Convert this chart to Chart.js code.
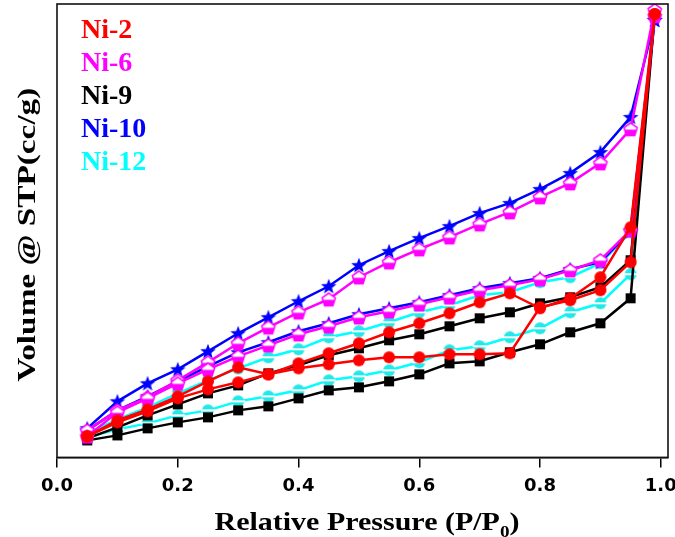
<!DOCTYPE html>
<html>
<head>
<meta charset="utf-8">
<title>Isotherms</title>
<script src="https://cdn.jsdelivr.net/npm/chart.js@4.4.0/dist/chart.umd.min.js"></script>
<style>
  html, body { margin: 0; padding: 0; background: #fff; }
  #isotherm-chart { display: block; }
</style>
</head>
<body>
<canvas id="isotherm-chart" width="675" height="537"></canvas>
<script>
//  data (volume in arbitrary units, no y labels on the original)
var pressure = [0.05, 0.1, 0.15, 0.2, 0.25, 0.3, 0.35, 0.4, 0.45, 0.5, 0.55, 0.6, 0.65, 0.7, 0.75, 0.8, 0.85, 0.9, 0.95, 0.99];

var ni2Ads = [21, 37, 48, 61, 76, 90, 83, 89, 93, 97, 100, 100, 103, 103, 104, 150, 157, 167, 195, 443];
var ni2Des = [21, 35, 46, 59, 68, 75, 83, 94, 104, 114, 125, 134, 144, 155, 164, 149, 159, 180, 230, 443];
var ni6Ads = [21, 45, 59, 74, 88, 101, 112, 123, 131, 140, 146, 153, 160, 167, 172, 178, 187, 197, 227, 441];
var ni6Des = [27, 47, 60, 77, 95, 114, 130, 145, 158, 180, 195, 208, 220, 233, 245, 260, 274, 294, 328, 447];
var ni9Ads = [17, 22, 29, 35, 40, 47, 51, 59, 67, 70, 76, 83, 94, 96, 105, 113, 125, 134, 159, 443];
var ni9Des = [19, 30, 42, 53, 64, 72, 84, 92, 102, 109, 117, 123, 131, 139, 145, 154, 160, 170, 197, 445];
var ni10Ads = [27, 47, 61, 76, 91, 105, 115, 126, 134, 143, 149, 155, 162, 169, 174, 179, 188, 195, 226, 437];
var ni10Des = [29, 56, 74, 88, 106, 124, 140, 156, 171, 192, 206, 219, 231, 244, 254, 268, 284, 305, 340, 437];
var ni12Ads = [20, 28, 34, 42, 47, 56, 61, 67, 77, 81, 87, 95, 107, 111, 120, 129, 145, 154, 183, 441];
var ni12Des = [24, 38, 50, 64, 77, 89, 100, 108, 120, 126, 135, 145, 152, 162, 165, 175, 180, 194, 225, 441];

var sampleNames = ['Ni-2', 'Ni-6', 'Ni-9', 'Ni-10', 'Ni-12'];
var sampleColors = ['#ff0000', '#ff00ff', '#000000', '#0000ff', '#00ffff'];

var xTicks = [0, 0.2, 0.4, 0.6, 0.8, 1.0];
var xTickLabels = ['0.0', '0.2', '0.4', '0.6', '0.8', '1.0'];

//  marker images (origin style symbols)
function makeMarker(shape, color) {
  var c = document.createElement('canvas');
  c.width = 18;
  c.height = 18;
  var g = c.getContext('2d');
  var cx = 9, cy = 9, i, a, r;
  g.fillStyle = color;
  g.strokeStyle = color;
  g.lineWidth = 1;

  if (shape === 'square') {
    g.fillRect(4, 4, 10, 10);
  }
  else if (shape === 'circle') {
    g.beginPath();
    g.arc(cx, cy, 6, 0, Math.PI * 2);
    g.fill();
  }
  else if (shape === 'star') {
    g.beginPath();
    for (i = 0; i < 10; i++) {
      r = (i % 2 === 0) ? 8.2 : 3.4;
      a = -Math.PI / 2 + i * Math.PI / 5;
      g.lineTo(cx + r * Math.cos(a), cy + 0.6 + r * Math.sin(a));
    }
    g.closePath();
    g.fill();
  }
  else if (shape === 'pentagon') {
    g.beginPath();
    for (i = 0; i < 5; i++) {
      a = -Math.PI / 2 + i * 2 * Math.PI / 5;
      g.lineTo(cx + 7 * Math.cos(a), cy + 0.8 + 7 * Math.sin(a));
    }
    g.closePath();
    g.fillStyle = '#ffffff';
    g.fill();
    g.save();
    g.clip();
    g.fillStyle = color;
    g.fillRect(0, cy + 0.5, 18, 9);
    g.restore();
    g.lineWidth = 1.5;
    g.stroke();
  }
  else if (shape === 'halfcircle') {
    g.beginPath();
    g.arc(cx, cy, 6, 0, Math.PI * 2);
    g.fill();
    g.fillStyle = '#ffffff';
    g.fillRect(2, cy - 1, 14, 2);
  }
  return c;
}

var markers = [
  makeMarker('circle', sampleColors[0]),
  makeMarker('pentagon', sampleColors[1]),
  makeMarker('square', sampleColors[2]),
  makeMarker('star', sampleColors[3]),
  makeMarker('halfcircle', '#22e8e8')
];

function toPoints(values) {
  return values.map(function(v, i) {
    return { x: pressure[i], y: v };
  });
}

function branch(label, values, idx) {
  return {
    label: label,
    data: toPoints(values),
    borderColor: sampleColors[idx],
    backgroundColor: sampleColors[idx],
    borderWidth: 2.5,
    pointStyle: markers[idx],
    pointRadius: 6,
    tension: 0
  };
}

//  draws text stretched along its own direction
function stretchedText(ctx, text, x, y, sx) {
  ctx.save();
  ctx.translate(x, y);
  ctx.scale(sx, 1);
  ctx.fillText(text, 0, 0);
  ctx.restore();
}

//  frame, legend names, axis titles
var decorPlugin = {
  id: 'decor',
  afterDraw: function(chart) {
    var ctx = chart.ctx;
    var a = chart.chartArea;
    ctx.save();
    ctx.strokeStyle = '#111';
    ctx.lineWidth = 1.6;
    ctx.strokeRect(a.left, a.top, a.right - a.left, a.bottom - a.top);

    ctx.font = 'bold 28px "Liberation Serif"';
    ctx.textAlign = 'left';
    ctx.textBaseline = 'alphabetic';
    sampleNames.forEach(function(name, i) {
      ctx.fillStyle = sampleColors[i];
      ctx.fillText(name, 81, 38 + i * 33);
    });

    // x title with subscript 0
    var sx = 1.2;
    var main = 'Relative Pressure (P/P';
    ctx.fillStyle = '#000';
    ctx.font = 'bold 25px "Liberation Serif"';
    var w1 = ctx.measureText(main).width * sx;
    var w3 = ctx.measureText(')').width * sx;
    ctx.font = 'bold 16px "Liberation Serif"';
    var w2 = ctx.measureText('0').width * sx;
    var x0 = 367 - (w1 + w2 + w3) / 2;
    var base = 530;
    ctx.font = 'bold 25px "Liberation Serif"';
    stretchedText(ctx, main, x0, base, sx);
    stretchedText(ctx, ')', x0 + w1 + w2, base, sx);
    ctx.font = 'bold 16px "Liberation Serif"';
    stretchedText(ctx, '0', x0 + w1, base + 7, sx);

    // y title, rotated
    ctx.save();
    ctx.translate(28, (a.top + a.bottom) / 2 + 4);
    ctx.rotate(-Math.PI / 2);
    ctx.font = 'bold 26px "Liberation Serif"';
    ctx.textAlign = 'center';
    ctx.textBaseline = 'middle';
    stretchedText(ctx, 'Volume @ STP(cc/g)', 0, 0, 1.28);
    ctx.restore();

    ctx.restore();
  }
};

(function() {
  var ctx = document.getElementById('isotherm-chart');
  var isothermChart = new Chart(ctx, {
    type: 'line',
    data: {
      datasets: [
        branch('Ni-2 ads', ni2Ads, 0),
        branch('Ni-2 des', ni2Des, 0),
        branch('Ni-6 ads', ni6Ads, 1),
        branch('Ni-6 des', ni6Des, 1),
        branch('Ni-10 ads', ni10Ads, 3),
        branch('Ni-10 des', ni10Des, 3),
        branch('Ni-9 ads', ni9Ads, 2),
        branch('Ni-9 des', ni9Des, 2),
        branch('Ni-12 ads', ni12Ads, 4),
        branch('Ni-12 des', ni12Des, 4)
      ]
    },
    options: {
      responsive: false,
      animation: false,
      devicePixelRatio: 1,
      layout: {
        autoPadding: false,
        padding: { left: 57, right: 7, top: 4, bottom: 32 }
      },
      plugins: {
        legend: { display: false },
        tooltip: { enabled: false }
      },
      scales: {
        x: {
          type: 'linear',
          min: 0,
          max: 1.012,
          afterBuildTicks: function(scale) {
            scale.ticks = xTicks.map(function(v) { return { value: v }; });
          },
          // keep the end labels from shrinking the plot area
          afterFit: function(scale) {
            scale.paddingLeft = 0;
            scale.paddingRight = 0;
          },
          ticks: {
            color: '#000',
            padding: 8,
            maxRotation: 0,
            font: { family: '"DejaVu Sans"', weight: 'bold', size: 18 },
            callback: function(value) {
              var k = xTicks.indexOf(value);
              return k >= 0 ? xTickLabels[k] : '';
            }
          },
          grid: {
            display: true,
            drawOnChartArea: false,
            drawTicks: true,
            tickLength: 10,
            color: '#000',
            lineWidth: 1.5
          },
          border: { display: true, color: '#111', width: 1.6 }
        },
        y: {
          type: 'linear',
          display: false,
          min: 0,
          max: 453
        }
      }
    },
    plugins: [decorPlugin]
  });
})();
</script>
</body>
</html>
